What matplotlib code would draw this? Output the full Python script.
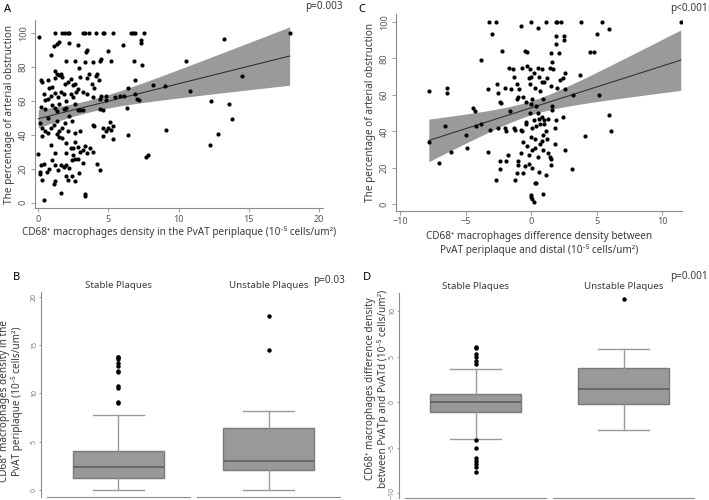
import matplotlib
matplotlib.use("Agg")
import matplotlib.pyplot as plt
import numpy as np

plt.rcParams["font.family"] = ["Noto Sans", "DejaVu Sans"]

# panel A: macrophage density vs % obstruction
a_pts = [
    (0.05, 97.5), (1.2, 100), (1.7, 100), (1.9, 100), (2.1, 100), (2.2, 100), (3.2, 100), (3.3, 100),
    (3.6, 100), (4.1, 100), (4.6, 100), (4.65, 100), (5.3, 100), (6.6, 100), (6.75, 100), (6.9, 100),
    (7.5, 100), (17.9, 100),
    (1.1, 92), (1.3, 93.5), (1.5, 94.5), (2.2, 94), (2.8, 93), (3.4, 88.5), (3.5, 90), (5.0, 89),
    (6.0, 92.5), (7.3, 96), (7.3, 94), (13.2, 96.5),
    (0.9, 87), (2.0, 83.5), (2.6, 83.5), (3.3, 83), (3.9, 83), (4.4, 83.5), (4.5, 84.5), (5.2, 83.5),
    (6.8, 83.5), (7.4, 81), (10.5, 83.5),
    (0.2, 72), (0.3, 71), (0.7, 72), (0.8, 67.5), (1.0, 68), (1.2, 77.5), (1.3, 76), (1.2, 73.5),
    (1.5, 75), (1.6, 75.5), (1.7, 74), (1.9, 70), (2.1, 71), (2.3, 73), (2.5, 69), (2.6, 70),
    (2.8, 67), (2.9, 79), (3.0, 74), (3.5, 73.5), (3.6, 76), (3.8, 70), (4.1, 74.5), (4.2, 76),
    (4.3, 72), (4.0, 67.5), (6.9, 72), (14.5, 74.5), (12.3, 60),
    (0.4, 64), (0.5, 60.5), (0.7, 61), (0.9, 63), (1.2, 64.5), (1.4, 62), (1.6, 65), (1.8, 64),
    (2.0, 60), (2.3, 64), (2.5, 62), (2.7, 65), (3.2, 65), (3.5, 64), (3.9, 62), (4.4, 61),
    (4.5, 63), (4.8, 63), (5.5, 62), (5.8, 62.5), (6.1, 63), (6.4, 67.5), (6.9, 64), (7.0, 61),
    (7.2, 60.5), (8.2, 69), (9.0, 68.5), (10.8, 65.5),
    (0.2, 56.5), (0.5, 55), (0.7, 50), (1.0, 57.5), (1.2, 56), (1.3, 54), (1.5, 58), (1.8, 55),
    (2.0, 56), (2.2, 51), (2.6, 58), (2.8, 54.5), (3.0, 54.5), (3.2, 54.5), (4.4, 55), (4.6, 54.5),
    (4.8, 60.5), (5.1, 47.5), (6.3, 55.5), (13.6, 58), (13.8, 49),
    (0.1, 47), (0.3, 44), (0.5, 42), (0.7, 41), (0.9, 44), (1.1, 46), (1.3, 48), (1.5, 42),
    (1.7, 44), (1.9, 47), (2.1, 42), (2.4, 48), (2.6, 41), (3.0, 42), (3.9, 46), (4.0, 45),
    (4.6, 44), (4.8, 42), (5.0, 44), (5.3, 45), (5.2, 43), (4.6, 39), (5.3, 37.5), (6.4, 40),
    (9.1, 43),
    (0.3, 39.5), (0.9, 34), (1.3, 40.5), (1.5, 38.5), (1.7, 38), (2.0, 35), (2.5, 32), (2.6, 36),
    (2.8, 33), (3.0, 30), (3.2, 31), (3.3, 33.5), (3.5, 29.5), (3.7, 32), (3.9, 30), (12.2, 34),
    (12.8, 40.5),
    (0.0, 28.5), (0.2, 22), (0.4, 22.5), (0.8, 20), (1.0, 25), (1.2, 22), (1.4, 19), (1.6, 22),
    (1.8, 21), (2.0, 22), (2.2, 20.5), (2.4, 25), (2.6, 26), (2.8, 25.5), (2.5, 28), (2.9, 17.5),
    (3.2, 23.5), (4.2, 22.5), (4.4, 19.5), (7.7, 27), (7.8, 28),
    (0.1, 17), (0.15, 18), (0.3, 13.5), (0.6, 18), (1.1, 11), (1.2, 12.5), (1.6, 6), (2.0, 15.5),
    (2.1, 13.5), (2.4, 16), (2.6, 13), (3.3, 5), (3.35, 3.8), (0.4, 1.5), (1.2, 29), (2.0, 29),
    (2.3, 32),
]

# panel C: difference density vs % obstruction
c_pts = [
    (-7.8, 62), (-6.4, 64), (-6.4, 61), (-6.6, 43), (-7.0, 22.5), (-7.8, 34), (-5.0, 38), (-4.9, 31),
    (-6.1, 29), (-4.4, 53), (-4.3, 51), (-4.2, 43), (-3.8, 44), (-3.8, 79), (-3.3, 63), (-3.3, 29),
    (-3.1, 41), (-3.2, 100), (-2.7, 100), (-3.0, 93.5), (-2.6, 66), (-2.5, 61), (-2.4, 56), (-2.3, 55.5),
    (-2.5, 42), (-2.4, 24), (-2.4, 19.5), (-2.7, 13.5), (-2.2, 84), (-2.0, 64), (-1.9, 40), (-2.0, 42),
    (-1.8, 27), (-1.9, 24), (-1.7, 74.5), (-1.6, 51), (-1.5, 63), (-1.4, 74), (-1.3, 70), (-1.3, 42),
    (-1.2, 41), (-1.1, 66), (-1.1, 58), (-1.2, 13.5), (-1.1, 17), (-1.0, 21.5), (-1.0, 24), (-1.0, 59),
    (-0.9, 63), (-0.8, 97.5), (-0.8, 28), (-0.8, 41), (-0.7, 40), (-0.7, 75), (-0.6, 59), (-0.6, 17.5),
    (-0.5, 21), (-0.5, 84), (-0.4, 45), (-0.4, 56), (-0.3, 76), (-0.3, 83.5), (-0.3, 32), (-0.2, 22),
    (-0.2, 27), (-0.1, 50), (-0.1, 74), (-0.1, 66), (0.0, 100), (0.0, 70), (0.0, 55), (0.0, 37),
    (0.0, 4), (0.0, 5), (0.1, 3), (0.2, 1.5), (0.1, 20), (0.1, 30), (0.1, 42), (0.2, 72),
    (0.2, 46), (0.3, 64), (0.3, 36), (0.3, 31), (0.3, 12), (0.4, 11.5), (0.4, 43), (0.4, 54),
    (0.5, 96.5), (0.5, 75), (0.5, 26), (0.6, 70), (0.6, 47), (0.6, 18), (0.7, 62), (0.7, 44),
    (0.8, 74), (0.8, 67), (0.8, 48), (0.8, 35), (0.9, 58), (0.9, 38), (0.9, 30), (0.9, 6),
    (1.0, 67), (1.0, 46), (1.1, 100), (1.1, 16), (1.1, 40), (1.2, 69), (1.2, 36), (1.3, 28),
    (1.4, 75), (1.4, 26), (1.5, 83), (1.5, 65), (1.5, 25), (1.5, 21.5), (1.6, 54), (1.6, 52),
    (1.6, 78), (1.7, 74), (1.8, 42), (1.8, 33), (1.9, 100), (1.9, 92.5), (1.9, 88), (1.9, 46),
    (2.0, 100), (2.0, 64), (2.1, 83), (2.2, 68), (2.3, 100), (2.4, 69), (2.4, 48), (2.5, 92.5),
    (2.5, 90), (2.6, 72), (2.6, 63.5), (2.6, 30), (3.1, 19.5), (3.2, 60), (3.7, 71), (3.8, 100),
    (4.1, 37.5), (4.5, 83.5), (4.8, 83.5), (5.0, 93.5), (5.2, 60), (5.4, 100), (5.9, 96), (5.9, 49),
    (6.1, 40.5), (11.4, 100), (-0.2, 69), (0.1, 58), (0.5, 50), (1.0, 44), (-0.6, 34), (-0.4, 44),
    (1.3, 47), (0.7, 33),
]

groups = ["Stable Plaques", "Unstable Plaques"]

# box plot stats: (whisker low, q1, median, q3, whisker high)
b_stats = [(0.0, 1.2, 2.4, 4.0, 7.8), (0.0, 2.1, 3.0, 6.4, 8.2)]
b_fliers = [[9.0, 9.1, 10.5, 10.8, 12.2, 12.3, 12.8, 13.1, 13.5, 13.7, 13.8], [14.5, 18.0]]

d_stats = [(-4.1, -1.1, 0.05, 0.9, 3.6), (-3.1, -0.2, 1.4, 3.8, 5.8)]
d_fliers = [[4.2, 4.5, 5.0, 5.3, 6.0, 6.1, -4.2, -5.1, -6.2, -6.5, -6.8, -7.1, -7.7], [11.3]]

AXC = "#8c8c8c"
TXT = "#3a3a3a"
SUP = "\u207a"
UNIT = "(10\u207b\u2075 cells/um\u00b2)"
FS = 7.2


def style_axes(ax):
    for s in ["top", "right"]:
        ax.spines[s].set_visible(False)
    for s in ["left", "bottom"]:
        ax.spines[s].set_color(AXC)
        ax.spines[s].set_linewidth(0.8)
    ax.tick_params(colors=AXC, labelcolor="#555555", labelsize=6.5, length=3, width=0.6, pad=2)


def scatter_fit(ax, pts):
    arr = np.array(pts, dtype=float)
    x, y = arr[:, 0], arr[:, 1]
    n = len(x)
    slope, icpt = np.polyfit(x, y, 1)
    resid = y - (icpt + slope * x)
    s = np.sqrt(np.sum(resid ** 2) / (n - 2))
    xs = np.linspace(x.min(), x.max(), 100)
    se = s * np.sqrt(1.0 / n + (xs - x.mean()) ** 2 / np.sum((x - x.mean()) ** 2))
    fit = icpt + slope * xs
    ax.fill_between(xs, fit - 1.97 * se, fit + 1.97 * se, color="#9a9a9a", lw=0, zorder=1)
    ax.plot(xs, fit, color="#333333", lw=0.8, zorder=2)
    ax.scatter(x, y, s=9, color="black", lw=0, zorder=3)
    style_axes(ax)
    for lab in ax.get_yticklabels():
        lab.set_rotation(90)
        lab.set_va("center")


def box_panel(fig, left, right, gap, bottom, top, stats, fliers, ylim, yticks):
    w = (right - left - gap) / 2
    axes = []
    for i in range(2):
        ax = fig.add_axes([left + i * (w + gap), bottom, w, top - bottom])
        lo, q1, med, q3, hi = stats[i]
        bx = [{"whislo": lo, "q1": q1, "med": med, "q3": q3, "whishi": hi, "fliers": fliers[i]}]
        ax.bxp(bx, positions=[0.5], widths=0.64, patch_artist=True, showcaps=True,
               boxprops=dict(facecolor="#999999", edgecolor="#7a7a7a", lw=1.0),
               medianprops=dict(color="#5f5f5f", lw=1.2),
               whiskerprops=dict(color="#9a9a9a", lw=1.0),
               capprops=dict(color="#9a9a9a", lw=1.0),
               capwidths=0.36,
               flierprops=dict(marker="o", markersize=3.2, markerfacecolor="black",
                               markeredgewidth=0))
        ax.set_xlim(0, 1)
        ax.set_ylim(*ylim)
        ax.set_xticks([])
        for s in ["top", "right"]:
            ax.spines[s].set_visible(False)
        ax.spines["bottom"].set_color(AXC)
        ax.spines["bottom"].set_linewidth(0.8)
        if i == 0:
            ax.spines["left"].set_position(("outward", 4))
            ax.spines["left"].set_color(AXC)
            ax.spines["left"].set_linewidth(0.8)
            ax.set_yticks(yticks)
            ax.tick_params(axis="y", colors=AXC, labelcolor="#777777", labelsize=5,
                           length=1.5, width=0.6, labelrotation=90, pad=1)
            for lab in ax.get_yticklabels():
                lab.set_va("center")
        else:
            ax.spines["left"].set_visible(False)
            ax.set_yticks([])
        ax.set_title(groups[i], fontsize=7, color=TXT, pad=3)
        axes.append(ax)
    return axes


fig = plt.figure(figsize=(7.09, 5.0), dpi=100)

# panel A
axA = fig.add_axes([0.049, 0.584, 0.407, 0.376])
axA.set_xlim(-0.25, 20.3)
axA.set_ylim(-3.1, 107.5)
axA.set_xticks([0, 5, 10, 15, 20])
axA.set_yticks([0, 20, 40, 60, 80, 100])
scatter_fit(axA, a_pts)
axA.set_xlabel("CD68" + SUP + " macrophages density in the PvAT periplaque " + UNIT,
               fontsize=FS, color=TXT, labelpad=2)
axA.set_ylabel("The percentage of arterial obstruction", fontsize=FS, color=TXT, labelpad=3)
fig.text(0.006, 0.982, "A", fontsize=8, weight="bold", va="center")
fig.text(0.483, 0.986, "p=0.003", fontsize=FS, color=TXT, ha="right", va="center")

# panel C
axC = fig.add_axes([0.558, 0.579, 0.404, 0.394])
axC.set_xlim(-10.33, 11.5)
axC.set_ylim(-3.3, 104.6)
axC.set_xticks([-10, -5, 0, 5, 10])
axC.set_yticks([0, 20, 40, 60, 80, 100])
scatter_fit(axC, c_pts)
axC.set_xlabel("CD68" + SUP + " macrophages difference density between\nPvAT periplaque and distal " + UNIT,
               fontsize=FS, color=TXT, labelpad=3, linespacing=1.25)
axC.set_ylabel("The percentage of arterial obstruction", fontsize=FS, color=TXT, labelpad=3)
fig.text(0.505, 0.982, "C", fontsize=8, weight="bold", va="center")
fig.text(0.998, 0.984, "p<0.001", fontsize=FS, color=TXT, ha="right", va="center")

# panel B
bx_axes = box_panel(fig, 47 / 709, 340 / 709, 7 / 709, 1 - 496.7 / 500, 1 - 291.7 / 500,
                    b_stats, b_fliers, (-0.69, 20.5), [0, 5, 10, 15, 20])
fig.text(11 / 709, 1 - 401 / 500,
         "CD68" + SUP + " macrophages density in the\nPvAT periplaque " + UNIT,
         rotation=90, ha="center", va="center", fontsize=FS, color=TXT, linespacing=1.2)
fig.text(0.018, 0.446, "B", fontsize=8, weight="bold", va="center")
fig.text(313 / 709, 0.44, "p=0.03", fontsize=FS, color=TXT, ha="left", va="center")

# panel D
dx_axes = box_panel(fig, 405 / 709, 694 / 709, 7 / 709, 1 - 498 / 500, 1 - 293 / 500,
                    d_stats, d_fliers, (-10.55, 12.0), [-10, -5, 0, 5, 10])
fig.text(377 / 709, 1 - 389 / 500,
         "CD68" + SUP + " macrophages difference density\nbetween PvATp and PvATd " + UNIT,
         rotation=90, ha="center", va="center", fontsize=FS, color=TXT, linespacing=1.2)
fig.text(0.512, 0.446, "D", fontsize=8, weight="bold", va="center")
fig.text(0.998, 0.446, "p=0.001", fontsize=FS, color=TXT, ha="right", va="center")

fig.savefig("out.png", dpi=100)
